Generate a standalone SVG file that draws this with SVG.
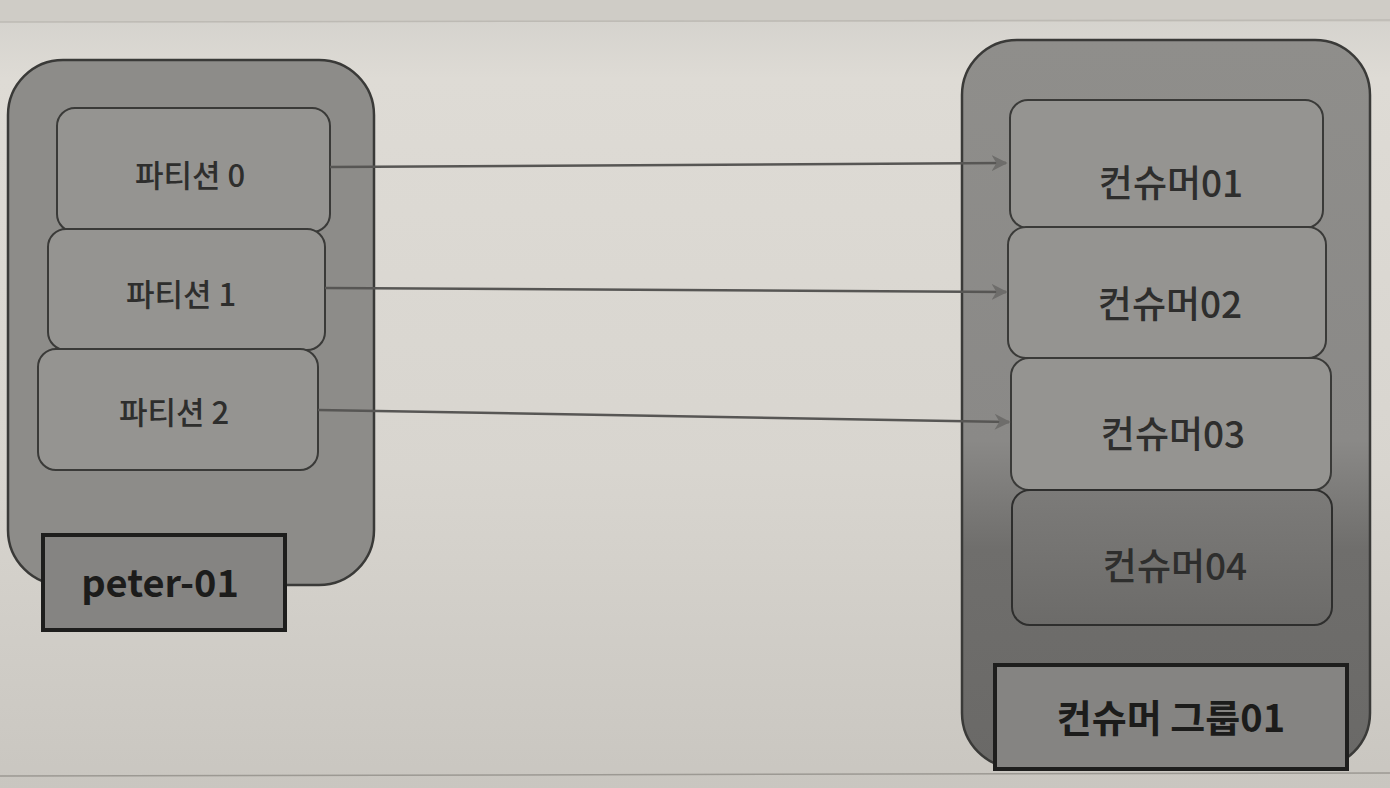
<svg xmlns="http://www.w3.org/2000/svg" width="1390" height="788" viewBox="0 0 1390 788">
<defs>
<linearGradient id="bg" x1="0" y1="0" x2="0" y2="1">
<stop offset="0" stop-color="#d2d0cb"/>
<stop offset="0.1" stop-color="#dedbd5"/>
<stop offset="0.6" stop-color="#d8d5cf"/>
<stop offset="1" stop-color="#c9c6c0"/>
</linearGradient>
<linearGradient id="rg" x1="0" y1="0" x2="0" y2="1">
<stop offset="0" stop-color="#8f8e8b"/>
<stop offset="0.55" stop-color="#8a8987"/>
<stop offset="0.7" stop-color="#6f6e6c"/>
<stop offset="1" stop-color="#6a6967"/>
</linearGradient>
<linearGradient id="rgi" x1="0" y1="0" x2="0" y2="1">
<stop offset="0" stop-color="#7c7b79"/>
<stop offset="1" stop-color="#6c6b69"/>
</linearGradient>
<marker id="arr" viewBox="0 0 10 10" refX="9" refY="5" markerWidth="16" markerHeight="16" markerUnits="userSpaceOnUse" orient="auto">
<path d="M0,0 L10,5 L0,10 L3,5 Z" fill="#6e6d6b"/>
</marker>
<style>
.outer{stroke:#3a3a38;stroke-width:2.5}
.box{fill:#959491;stroke:#3a3a38;stroke-width:2}
.tag{fill:#858482;stroke:#1e1e1d;stroke-width:4}
.t{font-family:"Noto Sans CJK KR","Noto Sans",sans-serif;fill:#2e2e2d;text-anchor:middle;dominant-baseline:central;font-weight:500}
.p{font-size:31px}
.c{font-size:37px}
.lb{font-size:38px;font-weight:bold;fill:#1c1c1b}
.conn{stroke:#575654;stroke-width:2.5;fill:none}
</style>
</defs>
<rect width="1390" height="788" fill="url(#bg)"/>
<rect x="0" y="0" width="1390" height="22" fill="#cfccc6"/>
<line x1="0" y1="22" x2="1390" y2="20" stroke="#bdbab4" stroke-width="1.5"/>
<line x1="0" y1="776" x2="1390" y2="773" stroke="#9c9993" stroke-width="1.5"/>

<g id="producer">
<rect class="outer" x="8" y="60" width="366" height="525" rx="55" fill="#8d8c89"/>
<g id="partition0">
<rect class="box" x="57" y="108" width="273" height="124" rx="18"/>
<text class="t p" x="190" y="173">파티션 0</text>
</g>
<g id="partition1">
<rect class="box" x="48" y="229" width="277" height="121" rx="18"/>
<text class="t p" x="181" y="292">파티션 1</text>
</g>
<g id="partition2">
<rect class="box" x="38" y="349" width="280" height="121" rx="18"/>
<text class="t p" x="174" y="410">파티션 2</text>
</g>
<g id="label-peter">
<rect class="tag" x="43" y="535" width="242" height="95"/>
<text class="t lb" x="160" y="580">peter-01</text>
</g>
</g>

<g id="consumer-group">
<rect class="outer" x="962" y="40" width="408" height="728" rx="55" fill="url(#rg)"/>
<g id="consumer01">
<rect class="box" x="1010" y="100" width="313" height="128" rx="18"/>
<text class="t c" x="1171" y="181">컨슈머01</text>
</g>
<g id="consumer02">
<rect class="box" x="1008" y="227" width="318" height="131" rx="18"/>
<text class="t c" x="1170" y="302">컨슈머02</text>
</g>
<g id="consumer03">
<rect class="box" x="1011" y="358" width="320" height="132" rx="18"/>
<text class="t c" x="1173" y="432">컨슈머03</text>
</g>
<g id="consumer04">
<rect x="1012" y="490" width="320" height="135" rx="18" fill="url(#rgi)" stroke="#2e2e2d" stroke-width="2"/>
<text class="t c" x="1175" y="564">컨슈머04</text>
</g>
<g id="label-group">
<rect class="tag" x="995" y="665" width="352" height="104" fill="#6d6c6a"/>
<text class="t lb" x="1171" y="715">컨슈머 그룹01</text>
</g>
</g>

<g id="connectors">
<line class="conn" x1="330" y1="167" x2="1006" y2="163" marker-end="url(#arr)"/>
<line class="conn" x1="325" y1="288" x2="1006" y2="292" marker-end="url(#arr)"/>
<line class="conn" x1="318" y1="410" x2="1009" y2="422" marker-end="url(#arr)"/>
</g>
</svg>
